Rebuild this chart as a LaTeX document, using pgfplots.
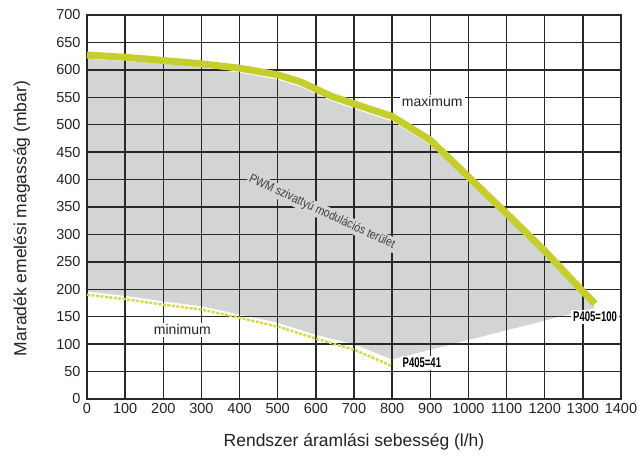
\documentclass[border=0pt]{standalone}
\usepackage{pgfplots}
\pgfplotsset{compat=1.18}
\usepackage{fontspec}
\setmainfont{Liberation Sans}
\definecolor{maxcol}{RGB}{196,207,46}
\definecolor{mincol}{RGB}{214,217,70}
\definecolor{regcol}{RGB}{211,212,212}
\definecolor{gridcol}{RGB}{40,40,40}
\definecolor{txtcol}{RGB}{35,35,35}
\begin{document}
\begin{tikzpicture}
\begin{axis}[
  set layers,
  scale only axis, width=534pt, height=384pt,
  xmin=0, xmax=1400, ymin=0, ymax=700,
  xtick distance=100, ytick distance=50,
  axis line style={gridcol, line width=1.3pt},
  major tick length=0pt,
  /pgf/number format/assume math mode=true,
  /pgf/number format/1000 sep={},
  ticklabel style={font=\fontsize{14.5}{16}\selectfont, text=txtcol},
  yticklabel style={xshift=-3pt},
  xticklabel style={yshift=-1pt},
  xlabel={Rendszer áramlási sebesség (l/h)},
  ylabel={Maradék emelési magasság (mbar)},
  label style={font=\fontsize{17.5}{20}\selectfont, text=txtcol},
  xlabel style={at={(axis description cs:0.5,-0.112)}, anchor=center},
  ylabel style={at={(axis description cs:-0.122,0.47)}, anchor=center},
  gridfill/.style={fill=gridcol, draw=none, forget plot, on layer=axis grid},
]
% modulation region
\addplot[fill=regcol, draw=none, on layer=axis background] coordinates {
  (0,620) (100,616) (200,611) (300,604) (400,595) (500,582) (560,569) (640,543)
  (800,506) (900,463) (1000,397) (1100,331) (1200,263) (1300,190) (1330,170)
  (1330,166) (800,72) (700,100) (600,117) (500,139) (400,154) (300,169)
  (200,178) (100,188) (0,196)
} -- cycle;
% vertical grid lines (thin filled strips)
\addplot[gridfill] coordinates {(98.3,0) (101.7,0) (101.7,700) (98.3,700)} -- cycle;
\addplot[gridfill] coordinates {(198.3,0) (201.7,0) (201.7,700) (198.3,700)} -- cycle;
\addplot[gridfill] coordinates {(298.3,0) (301.7,0) (301.7,700) (298.3,700)} -- cycle;
\addplot[gridfill] coordinates {(398.3,0) (401.7,0) (401.7,700) (398.3,700)} -- cycle;
\addplot[gridfill] coordinates {(498.3,0) (501.7,0) (501.7,700) (498.3,700)} -- cycle;
\addplot[gridfill] coordinates {(598.3,0) (601.7,0) (601.7,700) (598.3,700)} -- cycle;
\addplot[gridfill] coordinates {(698.3,0) (701.7,0) (701.7,700) (698.3,700)} -- cycle;
\addplot[gridfill] coordinates {(798.3,0) (801.7,0) (801.7,700) (798.3,700)} -- cycle;
\addplot[gridfill] coordinates {(898.3,0) (901.7,0) (901.7,700) (898.3,700)} -- cycle;
\addplot[gridfill] coordinates {(998.3,0) (1001.7,0) (1001.7,700) (998.3,700)} -- cycle;
\addplot[gridfill] coordinates {(1098.3,0) (1101.7,0) (1101.7,700) (1098.3,700)} -- cycle;
\addplot[gridfill] coordinates {(1198.3,0) (1201.7,0) (1201.7,700) (1198.3,700)} -- cycle;
\addplot[gridfill] coordinates {(1298.3,0) (1301.7,0) (1301.7,700) (1298.3,700)} -- cycle;
% horizontal grid lines (thin filled strips)
\addplot[gridfill] coordinates {(0,48.8) (1400,48.8) (1400,51.2) (0,51.2)} -- cycle;
\addplot[gridfill] coordinates {(0,98.8) (1400,98.8) (1400,101.2) (0,101.2)} -- cycle;
\addplot[gridfill] coordinates {(0,148.8) (1400,148.8) (1400,151.2) (0,151.2)} -- cycle;
\addplot[gridfill] coordinates {(0,198.8) (1400,198.8) (1400,201.2) (0,201.2)} -- cycle;
\addplot[gridfill] coordinates {(0,248.8) (1400,248.8) (1400,251.2) (0,251.2)} -- cycle;
\addplot[gridfill] coordinates {(0,298.8) (1400,298.8) (1400,301.2) (0,301.2)} -- cycle;
\addplot[gridfill] coordinates {(0,348.8) (1400,348.8) (1400,351.2) (0,351.2)} -- cycle;
\addplot[gridfill] coordinates {(0,398.8) (1400,398.8) (1400,401.2) (0,401.2)} -- cycle;
\addplot[gridfill] coordinates {(0,448.8) (1400,448.8) (1400,451.2) (0,451.2)} -- cycle;
\addplot[gridfill] coordinates {(0,498.8) (1400,498.8) (1400,501.2) (0,501.2)} -- cycle;
\addplot[gridfill] coordinates {(0,548.8) (1400,548.8) (1400,551.2) (0,551.2)} -- cycle;
\addplot[gridfill] coordinates {(0,598.8) (1400,598.8) (1400,601.2) (0,601.2)} -- cycle;
\addplot[gridfill] coordinates {(0,648.8) (1400,648.8) (1400,651.2) (0,651.2)} -- cycle;
% minimum
\addplot[draw=mincol, line width=2.5pt, dash pattern=on 3pt off 1.5pt] coordinates {
  (0,190) (100,182) (200,172) (300,163) (400,148) (500,132) (600,110) (700,90) (800,60)
};
% maximum
\addplot[draw=maxcol, line width=7pt, line join=round] coordinates {
  (0,627) (100,623) (200,617) (300,611) (400,603) (500,591) (560,578) (640,552)
  (800,515) (900,472) (1000,405) (1100,338) (1200,270) (1300,196) (1332,174)
};
\node[fill=white, inner sep=2pt, text=txtcol, font=\fontsize{14}{16}\selectfont] at (axis cs:905,542) {maximum};
\node[fill=white, inner sep=2pt, text=txtcol, font=\fontsize{14}{16}\selectfont] at (axis cs:250,126) {minimum};
\node[fill=white, inner sep=2pt, text=black, font=\fontsize{14}{16}\selectfont\bfseries] at (axis cs:878,66) {\scalebox{0.68}[1]{P405=41}};
\node[fill=white, inner sep=2pt, text=black, font=\fontsize{14}{16}\selectfont\bfseries] at (axis cs:1332,150) {\scalebox{0.68}[1]{P405=100}};
\node[fill=regcol, inner sep=1.5pt, rotate=-25, text=black!75, font=\fontsize{12.5}{14}\selectfont] at (axis cs:616,341) {\scalebox{0.85}[1]{PWM szivattyú modulációs terület}};
\end{axis}
\pgfresetboundingbox
\path (-87pt,-63pt) rectangle (551pt,399pt);
\end{tikzpicture}
\end{document}
